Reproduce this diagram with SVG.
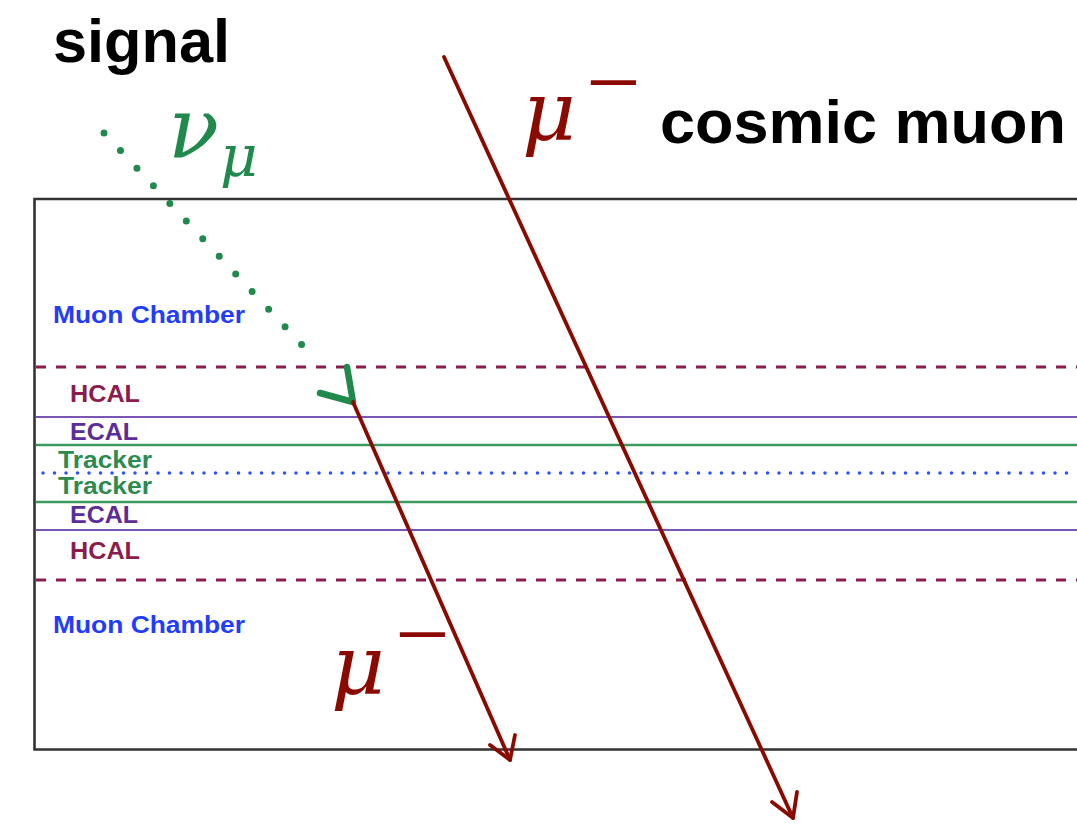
<svg xmlns="http://www.w3.org/2000/svg" width="1077" height="824" viewBox="0 0 1077 824">
<style>
.title{font-family:"Liberation Sans",Arial,sans-serif;font-weight:bold;fill:#000}
.lbl{font-family:"Liberation Sans",Arial,sans-serif;font-weight:bold;font-size:24px}
.muon{fill:#1f3cff}.hcal{fill:#8c1c4c}.ecal{fill:#5a2d9a}.trk{fill:#2e8b4f}
.math{font-family:"DejaVu Serif",serif;font-style:italic}
.bar{font-family:"Liberation Serif","Times New Roman",serif;font-size:97px}
.red{stroke:#8b0a00;stroke-width:3.8;fill:none;stroke-linecap:round;stroke-linejoin:round}
.grn{stroke:#1f8a4c;fill:none;stroke-linecap:round;stroke-linejoin:round}
</style>
<rect width="1077" height="824" fill="#fff"/>
<g id="detector">
<path d="M1080 199 H34.5 V749.5 H1080" fill="none" stroke="#333" stroke-width="2.6"/>
<line x1="36" y1="367" x2="1077" y2="367" stroke="#8c1c4c" stroke-width="3" stroke-dasharray="10 10"/>
<line x1="36" y1="417" x2="1077" y2="417" stroke="#7a55b5" stroke-width="2"/>
<line x1="36" y1="445" x2="1077" y2="445" stroke="#3c9a60" stroke-width="2.5"/>
<line x1="43" y1="473" x2="1077" y2="473" stroke="#2a50ff" stroke-width="3.5" stroke-linecap="round" stroke-dasharray="0 11.5"/>
<line x1="36" y1="502" x2="1077" y2="502" stroke="#3c9a60" stroke-width="2.5"/>
<line x1="36" y1="530" x2="1077" y2="530" stroke="#7a55b5" stroke-width="2"/>
<line x1="36" y1="580" x2="1077" y2="580" stroke="#8c1c4c" stroke-width="3" stroke-dasharray="10 10"/>
</g>
<g id="labels">
<text class="lbl muon" x="53" y="323" textLength="192" lengthAdjust="spacingAndGlyphs">Muon Chamber</text>
<text class="lbl hcal" x="70" y="402" textLength="70" lengthAdjust="spacingAndGlyphs">HCAL</text>
<text class="lbl ecal" x="70" y="440" textLength="68" lengthAdjust="spacingAndGlyphs">ECAL</text>
<text class="lbl trk" x="58" y="468" textLength="94" lengthAdjust="spacingAndGlyphs">Tracker</text>
<text class="lbl trk" x="58" y="494" textLength="94" lengthAdjust="spacingAndGlyphs">Tracker</text>
<text class="lbl ecal" x="70" y="523" textLength="68" lengthAdjust="spacingAndGlyphs">ECAL</text>
<text class="lbl hcal" x="70" y="559" textLength="70" lengthAdjust="spacingAndGlyphs">HCAL</text>
<text class="lbl muon" x="53" y="633" textLength="192" lengthAdjust="spacingAndGlyphs">Muon Chamber</text>
</g>
<g id="titles">
<text class="title" x="53" y="62" font-size="62" textLength="177" lengthAdjust="spacingAndGlyphs">signal</text>
<text class="title" x="660" y="143" font-size="62" textLength="406" lengthAdjust="spacingAndGlyphs">cosmic muon</text>
</g>
<g id="connectors">
<line class="grn" x1="104" y1="133" x2="318" y2="362" stroke-width="7" stroke-dasharray="0 24.11"/>
<path class="grn" d="M320 393 L353 402 L347 367" stroke-width="6.5"/>
<line class="red" x1="353" y1="402" x2="510" y2="760"/>
<path class="red" d="M490 745 L510 760 L515 735"/>
<line class="red" x1="444" y1="57" x2="793" y2="818"/>
<path class="red" d="M772 802 L793 818 L797 792"/>
</g>
<g id="math-labels">
<text class="math" fill="#1f8a4c" font-size="84" x="168" y="157">ν<tspan font-size="58" x="220" y="176">μ</tspan></text>
<text class="math" fill="#8b0a00" font-size="83" x="522" y="140">μ<tspan class="bar" font-style="normal" x="586" y="115">−</tspan></text>
<text class="math" fill="#8b0a00" font-size="83" x="331" y="694">μ<tspan class="bar" font-style="normal" x="395" y="667">−</tspan></text>
</g>
</svg>
